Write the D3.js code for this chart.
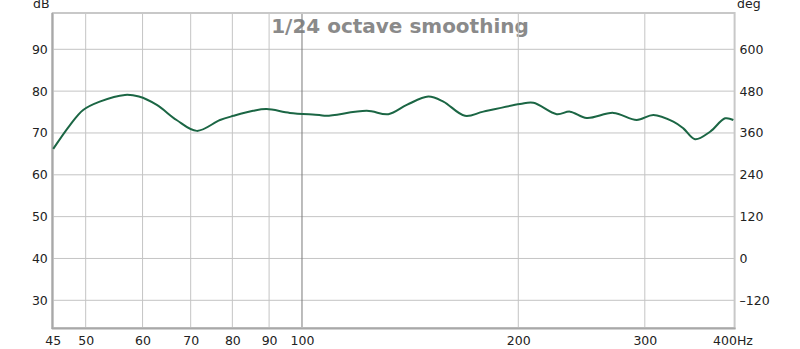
<!DOCTYPE html>
<html><head><meta charset="utf-8">
<script src="https://cdn.jsdelivr.net/npm/d3@7"></script>
<style>body{margin:0;background:#fff}svg{display:block}text{font-family:"DejaVu Sans",Verdana,sans-serif}</style>
</head><body>
<svg id="c" width="800" height="349"></svg>
<script>
const freqs = [45.06,47.55,49.6,52.3,56.7,59.3,62.8,66.9,71.4,76.9,80.3,85.5,89.3,96.2,105.7,108.2,123.1,131.9,139.9,149.9,157.3,168.6,178.8,201.1,209.9,226.2,236.0,249.0,271.3,292.3,308.3,328.7,339.4,352.4,369.8,388.0,398.4];
const dB    = [66.2,71.9,75.5,77.5,79.1,78.7,76.7,73.1,70.5,73.1,74.1,75.3,75.7,74.8,74.3,74.1,75.3,74.5,76.7,78.7,77.5,74.1,75.1,76.9,77.2,74.5,75.1,73.6,74.8,73.1,74.3,72.7,71.1,68.5,70.3,73.5,73.1];
const xTicks = [45,50,60,70,80,90,100,200,300,400];
const xGrid = [50,60,70,80,90,200,300];
const yTicks = [30,40,50,60,70,80,90];
const degTicks = [-120,0,120,240,360,480,600];
const title = "1/24 octave smoothing";

const svg = d3.select("#c");
const L=52.8, R=734.6, T=13, B=328;
const x = d3.scaleLog().domain([45,400]).range([L,R]);
const y = d3.scaleLinear().domain([30,90]).range([300.3,49.3]);
const yDeg = d3.scaleLinear().domain([-120,600]).range([300.3,49.3]);

// title (under grid)
svg.append("text").attr("x",400).attr("y",33).attr("text-anchor","middle")
  .attr("font-size",20).attr("font-weight","bold").attr("fill","#8a8a8a").text(title);

// grid
const g = svg.append("g");
g.selectAll(".hg").data(yTicks).join("line")
  .attr("x1",L).attr("x2",R).attr("y1",d=>y(d)).attr("y2",d=>y(d))
  .attr("stroke","#c4c4c4").attr("stroke-width",1);
g.selectAll(".vg").data(xGrid).join("line")
  .attr("x1",d=>x(d)).attr("x2",d=>x(d)).attr("y1",T).attr("y2",B)
  .attr("stroke","#c4c4c4").attr("stroke-width",1);
g.append("line").attr("x1",x(100)).attr("x2",x(100)).attr("y1",T).attr("y2",B)
  .attr("stroke","#7a7a7a").attr("stroke-width",1);

// frame
svg.append("rect").attr("x",L).attr("y",T).attr("width",R-L).attr("height",B-T)
  .attr("fill","none").attr("stroke","#c8c8c8").attr("stroke-width",2);
svg.append("line").attr("x1",L-0.5).attr("x2",L-0.5).attr("y1",T).attr("y2",B+1)
  .attr("stroke","#a8a8a8").attr("stroke-width",2);
svg.append("line").attr("x1",L-1).attr("x2",R+1).attr("y1",B+0.5).attr("y2",B+0.5)
  .attr("stroke","#a8a8a8").attr("stroke-width",2);

// curve
const line = d3.line().x((d,i)=>x(freqs[i])).y(d=>y(d)).curve(d3.curveCatmullRom.alpha(0.5));
svg.append("path").datum(dB).attr("d",line).attr("fill","none")
  .attr("stroke","#1b6644").attr("stroke-width",2);

// axes
const yAxis = d3.axisLeft(y).tickValues(yTicks).tickSize(0).tickPadding(5);
const ga = svg.append("g").attr("transform",`translate(${L},0)`).call(yAxis);
const yAxisR = d3.axisRight(yDeg).tickValues(degTicks).tickSize(0).tickPadding(5)
  .tickFormat(d=> d<0 ? "\u2013"+Math.abs(d) : d);
const gr = svg.append("g").attr("transform",`translate(${R},0)`).call(yAxisR);
const xAxis = d3.axisBottom(x).tickValues(xTicks).tickSize(0).tickPadding(8)
  .tickFormat(d=> d===400 ? "400Hz" : d);
const gx = svg.append("g").attr("transform",`translate(0,${B})`).call(xAxis);
[ga,gr,gx].forEach(a=>{a.select(".domain").remove();
  a.selectAll("text").attr("font-size",12.5).attr("fill","#222").attr("font-family","DejaVu Sans, Verdana, sans-serif");});
gx.selectAll(".tick").filter(d=>d===400).select("text").attr("text-anchor","start").attr("dx",-22);

svg.append("text").attr("x",33).attr("y",8).attr("font-size",12.5).attr("fill","#222").text("dB");
svg.append("text").attr("x",737).attr("y",8).attr("font-size",12.5).attr("fill","#222").text("deg");
</script>
</body></html>
